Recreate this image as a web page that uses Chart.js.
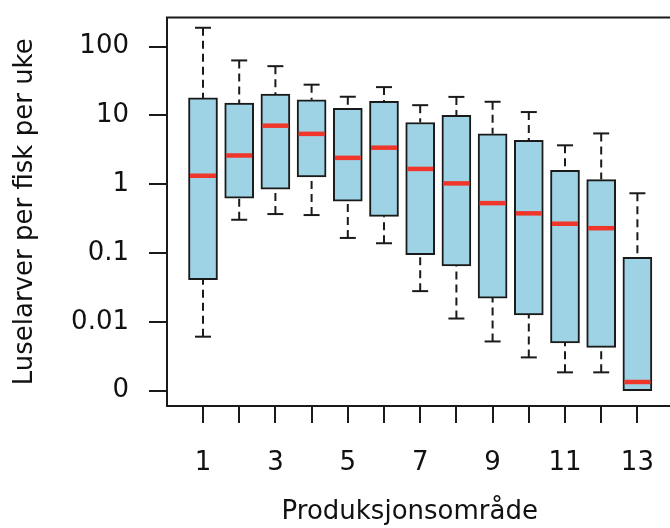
<!DOCTYPE html>
<html>
<head>
<meta charset="utf-8">
<script src="https://cdn.jsdelivr.net/npm/chart.js@4"></script>
<style>
  html, body { margin: 0; padding: 0; background: #fff; overflow: hidden; }
</style>
</head>
<body>
<canvas id="chart" width="670" height="528"></canvas>
<script>
const areas = [1, 2, 3, 4, 5, 6, 7, 8, 9, 10, 11, 12, 13];
const whiskerLow = [0.0061, 0.305, 0.369, 0.357, 0.166, 0.139, 0.028, 0.0112, 0.0052, 0.00305, 0.00185, 0.00185, 0.001];
const q1 = [0.041, 0.628, 0.85, 1.28, 0.569, 0.342, 0.095, 0.065, 0.0222, 0.0126, 0.00497, 0.00426, 0.001];
const median = [1.33, 2.62, 7.1, 5.4, 2.42, 3.4, 1.67, 1.03, 0.532, 0.378, 0.267, 0.23, 0.00134];
const q3 = [18, 15.1, 20.5, 16.9, 12.7, 16.1, 7.9, 10, 5.4, 4.36, 1.59, 1.17, 0.087];
const whiskerHigh = [188, 63, 52, 28, 18.7, 25.8, 14.1, 18.6, 15.8, 11.2, 3.68, 5.48, 0.74];
const yTicks = [0.001, 0.01, 0.1, 1, 10, 100];
const xLabelled = [1, 3, 5, 7, 9, 11, 13];

// whisker segments: from end to box edge, split by gaps (upper ones first, then lower)
const whiskerPts = [];
areas.forEach((a, i) => {
    whiskerPts.push({x: a, y: whiskerHigh[i]}, {x: a, y: q3[i]}, {x: a, y: null});
});
areas.forEach((a, i) => {
    if (whiskerLow[i] < q1[i]) {
        whiskerPts.push({x: a, y: whiskerLow[i]}, {x: a, y: q1[i]}, {x: a, y: null});
    }
});
const capPts = [];
areas.forEach((a, i) => {
    capPts.push({x: a, y: whiskerHigh[i]});
    if (whiskerLow[i] < q1[i]) capPts.push({x: a, y: whiskerLow[i]});
});

// plot frame (right side lies just off the picture)
const framePlugin = {
    id: 'frame',
    afterDraw(chart) {
        const {ctx, chartArea} = chart;
        ctx.save();
        ctx.strokeStyle = '#1a1a1a';
        ctx.lineWidth = 2;
        ctx.beginPath();
        ctx.moveTo(chart.width + 5, chartArea.top);
        ctx.lineTo(chartArea.left, chartArea.top);
        ctx.lineTo(chartArea.left, chartArea.bottom);
        ctx.lineTo(chart.width + 5, chartArea.bottom);
        ctx.stroke();
        ctx.restore();
    }
};

const font = {family: 'DejaVu Sans', size: 26};

const chart = new Chart(document.getElementById('chart').getContext('2d'), {
    type: 'bar',
    data: {
        datasets: [
            {
                type: 'scatter',
                data: areas.map((a, i) => ({x: a, y: median[i]})),
                pointStyle: 'line',
                pointRadius: 13,
                pointBorderWidth: 4.5,
                pointBorderColor: '#f0362a',
                clip: false,
                order: 0
            },
            {
                type: 'bar',
                data: areas.map((a, i) => ({x: a, y: [q1[i], q3[i]]})),
                backgroundColor: '#9dd3e4',
                borderColor: '#1a1a1a',
                borderWidth: 2,
                borderSkipped: false,
                barThickness: 29,
                clip: false,
                order: 2
            },
            {
                type: 'line',
                data: whiskerPts,
                borderColor: '#1a1a1a',
                borderWidth: 2,
                borderDash: [8, 5],
                pointRadius: 0,
                spanGaps: false,
                clip: false,
                order: 1
            },
            {
                type: 'scatter',
                data: capPts,
                pointStyle: 'line',
                pointRadius: 8,
                pointBorderWidth: 2,
                pointBorderColor: '#1a1a1a',
                clip: false,
                order: 1
            }
        ]
    },
    options: {
        responsive: false,
        animation: false,
        layout: {padding: {top: 13, right: 0, left: 0, bottom: 0}},
        plugins: {legend: {display: false}, tooltip: {enabled: false}},
        scales: {
            x: {
                type: 'linear',
                min: 0,
                max: 14,
                offset: false,
                afterBuildTicks: s => { s.ticks = areas.map(v => ({value: v})); },
                afterFit: s => { s.height = 122; },
                ticks: {
                    autoSkip: false,
                    maxRotation: 0,
                    padding: 0,
                    color: '#111',
                    font: font,
                    callback: v => xLabelled.includes(v) ? String(v) : ''
                },
                // tick mark 17px, then a 25px blank gap before the label
                grid: {offset: false, drawOnChartArea: false, drawTicks: true, tickLength: 42, tickBorderDash: [17, 30], color: '#1a1a1a', lineWidth: 2},
                border: {display: false},
                title: {display: true, text: 'Produksjonsområde', color: '#111', font: font, padding: {top: 0, bottom: 0}}
            },
            y: {
                type: 'logarithmic',
                min: 0.000621,
                max: 307.6,
                afterBuildTicks: s => { s.ticks = yTicks.map(v => ({value: v})); },
                afterFit: s => { s.width = 167; },
                ticks: {
                    autoSkip: false,
                    padding: 0,
                    color: '#111',
                    font: {family: 'DejaVu Sans', size: 26, lineHeight: 0.4},
                    callback: v => v === 0.001 ? '0' : String(v)
                },
                // drawn from the label side: 20px blank gap, then an 18px tick mark
                grid: {drawOnChartArea: false, drawTicks: true, tickLength: 38, tickBorderDash: [0, 20, 18, 30], color: '#1a1a1a', lineWidth: 2},
                border: {display: true, color: '#1a1a1a', width: 2},
                title: {display: true, text: 'Luselarver per fisk per uke', color: '#111', font: font, padding: {top: 10, bottom: 0}}
            }
        }
    },
    plugins: [framePlugin]
});

// fit the axis ranges to the laid-out scales: area 1 at x=203, 36.2 px per area,
// 100 at y=46.7 and 69 px per decade
for (let k = 0; k < 4; k++) {
    const xs = chart.scales.x, ys = chart.scales.y;
    const xo = chart.options.scales.x, yo = chart.options.scales.y;
    const pa = xs.getPixelForValue(xs.min), pb = xs.getPixelForValue(xs.max);
    const newMin = 1 - (203 - pa) / 36.2;
    xo.min = newMin;
    xo.max = newMin + (pb - pa) / 36.2;
    const ta = ys.getPixelForValue(ys.max), tb = ys.getPixelForValue(ys.min);
    yo.max = Math.pow(10, 2 + (46.7 - ta) / 69);
    yo.min = Math.pow(10, -3 - (tb - 391.7) / 69);
    chart.update();
}
</script>
</body>
</html>
